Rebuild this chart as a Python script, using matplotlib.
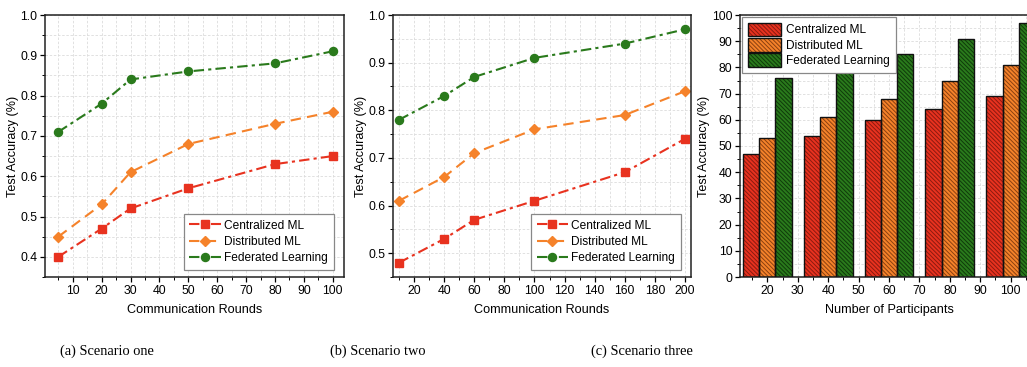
import matplotlib
matplotlib.use("Agg")
import matplotlib.pyplot as plt
from matplotlib.patches import Patch
from matplotlib.legend_handler import HandlerTuple
import numpy as np

# ---------------- data ----------------
series_names = ["Centralized ML", "Distributed ML", "Federated Learning"]

rounds_a = [5, 20, 30, 50, 80, 100]
central_a = [0.40, 0.47, 0.52, 0.57, 0.63, 0.65]
distrib_a = [0.45, 0.53, 0.61, 0.68, 0.73, 0.76]
federated_a = [0.71, 0.78, 0.84, 0.86, 0.88, 0.91]

rounds_b = [10, 40, 60, 100, 160, 200]
central_b = [0.48, 0.53, 0.57, 0.61, 0.67, 0.74]
distrib_b = [0.61, 0.66, 0.71, 0.76, 0.79, 0.84]
federated_b = [0.78, 0.83, 0.87, 0.91, 0.94, 0.97]

participants = [20, 40, 60, 80, 100]
central_c = [47, 54, 60, 64, 69]
distrib_c = [53, 61, 68, 75, 81]
federated_c = [76, 80, 85, 91, 97]

captions = ["(a) Scenario one", "(b) Scenario two", "(c) Scenario three"]

# ---------------- style ----------------
plt.rcParams['font.family'] = ['Liberation Sans', 'DejaVu Sans']
plt.rcParams['hatch.linewidth'] = 0.7

RED = '#e8321f'
ORANGE = '#f5822a'
GREEN = '#2a7a1c'
RED_H = '#8a1a10'
ORANGE_H = '#8a4010'
GREEN_H = '#0f3a0a'

TICK_FS = 8.8
LABEL_FS = 9.1
LEG_FS = 8.6

W, H = 1027, 367
fig = plt.figure(figsize=(W / 100, H / 100), dpi=100)


def ax_at(l, r, t=15, b=277):
    return fig.add_axes([l / W, (H - b) / H, (r - l) / W, (b - t) / H])


def style_axes(ax):
    for s in ax.spines.values():
        s.set_linewidth(1.1)
        s.set_color('#222222')
    ax.tick_params(which='major', direction='out', length=3.5, width=0.9, labelsize=TICK_FS, pad=2)
    ax.tick_params(which='minor', direction='out', length=2, width=0.7)
    ax.grid(True, which='both', linestyle=(0, (3, 2)), color='#dcdcdc', linewidth=0.6)
    ax.set_axisbelow(True)


line_styles = [
    dict(color=RED, linestyle=(0, (5, 2, 1.5, 2)), marker='s', markersize=5.5),
    dict(color=ORANGE, linestyle=(0, (5, 3)), marker='D', markersize=5),
    dict(color=GREEN, linestyle=(0, (5, 2, 1.5, 2)), marker='o', markersize=5.8),
]


def line_panel(ax, x, ys, xlim, ylim, xmaj, xmin, legend_anchor):
    for y, st, name in zip(ys, line_styles, series_names):
        ax.plot(x, y, linewidth=1.5, label=name, **st)
    ax.set_xlim(*xlim)
    ax.set_ylim(*ylim)
    ax.xaxis.set_major_locator(plt.MultipleLocator(xmaj))
    ax.xaxis.set_minor_locator(plt.MultipleLocator(xmin))
    ax.yaxis.set_major_locator(plt.MultipleLocator(0.1))
    ax.yaxis.set_minor_locator(plt.MultipleLocator(0.05))
    ax.yaxis.set_major_formatter(plt.FormatStrFormatter('%.1f'))
    style_axes(ax)
    ax.set_xlabel('Communication Rounds', fontsize=LABEL_FS, labelpad=5)
    ax.set_ylabel('Test Accuracy (%)', fontsize=LABEL_FS, labelpad=1)
    leg = ax.legend(loc='lower right', bbox_to_anchor=legend_anchor, fontsize=LEG_FS,
                    frameon=True, fancybox=False, framealpha=1, edgecolor='#888888',
                    handlelength=2.6, handletextpad=0.3, labelspacing=0.35,
                    borderpad=0.5, borderaxespad=0)
    leg.get_frame().set_linewidth(0.9)


# Panel (a)
ax1 = ax_at(45, 344)
line_panel(ax1, rounds_a, [central_a, distrib_a, federated_a], (0.4, 103.9), (0.35, 1.0),
           10, 5, (0.966, 0.027))
ax1.set_xticks(np.arange(10, 101, 10))

# Panel (b)
ax2 = ax_at(393, 691)
line_panel(ax2, rounds_b, [central_b, distrib_b, federated_b], (6, 204), (0.45, 1.0),
           20, 10, (0.966, 0.027))
ax2.set_xticks(np.arange(20, 201, 20))

# Panel (c)
ax3 = ax_at(740, 1038)
bw = 16 / 3
offsets = [-bw, 0, bw]
fills = [RED, ORANGE, GREEN]
hatch_cols = [RED_H, ORANGE_H, GREEN_H]
HATCH = '\\\\\\\\\\\\\\\\'
handles = []
for vals, off, fc, hc, name in zip([central_c, distrib_c, federated_c], offsets, fills, hatch_cols, series_names):
    xs = np.array(participants) + off
    ax3.bar(xs, vals, width=bw, color=fc, edgecolor=hc, linewidth=0, hatch=HATCH, zorder=2)
    ax3.bar(xs, vals, width=bw, fill=False, edgecolor='#111111', linewidth=1.0, zorder=3)
    handles.append((Patch(facecolor=fc, edgecolor=hc, hatch=HATCH, linewidth=0),
                    Patch(fill=False, edgecolor='#111111', linewidth=1.0)))
ax3.set_xlim(11, 109)
ax3.set_ylim(0, 100)
ax3.set_xticks(np.arange(20, 101, 10))
ax3.xaxis.set_minor_locator(plt.MultipleLocator(5))
ax3.yaxis.set_major_locator(plt.MultipleLocator(10))
ax3.yaxis.set_minor_locator(plt.MultipleLocator(5))
style_axes(ax3)
ax3.set_xlabel('Number of Participants', fontsize=LABEL_FS, labelpad=5)
ax3.set_ylabel('Test Accuracy (%)', fontsize=LABEL_FS, labelpad=1)
leg3 = ax3.legend(handles, series_names, handler_map={tuple: HandlerTuple(ndivide=1, pad=0)},
                  loc='upper left', bbox_to_anchor=(0.006, 0.994), fontsize=LEG_FS,
                  frameon=True, fancybox=False, framealpha=1, edgecolor='#888888',
                  handlelength=2.8, handleheight=1.4, handletextpad=0.4, labelspacing=0.12,
                  borderpad=0.5, borderaxespad=0)
leg3.get_frame().set_linewidth(0.9)

# captions
for txt, xpx in zip(captions, [60, 330, 591]):
    fig.text(xpx / W, 1 - 351 / H, txt, fontsize=10.4, family=['Liberation Serif', 'DejaVu Serif'],
             ha='left', va='center')

fig.savefig('out.png', dpi=100)
